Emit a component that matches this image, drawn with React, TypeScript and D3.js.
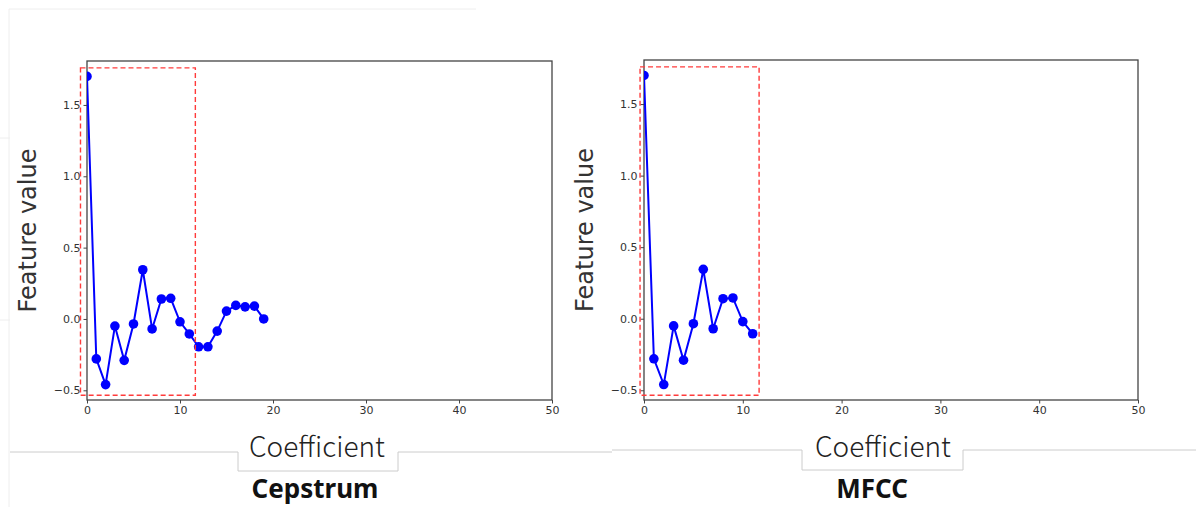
import { useEffect, useRef } from 'react';
import * as d3 from 'd3';

// feature values
const cepstrumValues = [1.70, -0.28, -0.46, -0.05, -0.29, -0.035, 0.345, -0.07, 0.14, 0.145,
  -0.02, -0.105, -0.195, -0.195, -0.085, 0.055, 0.095, 0.085, 0.09, 0.0];
const mfccValues = [1.70, -0.28, -0.46, -0.05, -0.29, -0.035, 0.345, -0.07, 0.14, 0.145,
  -0.02, -0.105];
const xTicks = [0, 10, 20, 30, 40, 50];
const yTicks = [-0.5, 0.0, 0.5, 1.0, 1.5];
const panelTitles = ['Cepstrum', 'MFCC'];
// highlighted range [x0, x1, y0, y1] in data units
const cepstrumBox = [-0.7, 11.65, -0.535, 1.76];
const mfccBox = [-0.4, 11.65, -0.535, 1.76];

const W = 1196;
const H = 507;

function drawPanel(svg, opts) {
  const { values, box, left, right, top, bottom, title, id, labelX, titleX, bracket, lineFrom, lineTo } = opts;
  const x = d3.scaleLinear().domain([0, 50]).range([left, right]);
  const y = d3.scaleLinear().domain([-0.568, 1.808]).range([bottom, top]);

  svg.append('clipPath').attr('id', id)
    .append('rect').attr('x', left).attr('y', top)
    .attr('width', right - left).attr('height', bottom - top);

  // axes
  const ax = svg.append('g')
    .attr('transform', `translate(0,${bottom})`)
    .call(d3.axisBottom(x).tickValues(xTicks).tickSize(3.5).tickPadding(3).tickFormat(d3.format('d')));
  const ay = svg.append('g')
    .attr('transform', `translate(${left},0)`)
    .call(d3.axisLeft(y).tickValues(yTicks).tickSize(3.5).tickPadding(3).tickFormat(d3.format('.1f')));
  [ax, ay].forEach(g => {
    g.select('.domain').remove();
    g.attr('font-family', 'DejaVu Sans').attr('font-size', 11);
    g.selectAll('line').attr('stroke', '#444');
    g.selectAll('text').attr('fill', '#333')
      .text(function () { return d3.select(this).text().replace('-', '\u2212'); });
  });

  // frame
  svg.append('rect')
    .attr('x', left).attr('y', top)
    .attr('width', right - left).attr('height', bottom - top)
    .attr('fill', 'none').attr('stroke', '#444').attr('stroke-width', 1.3);

  const plot = svg.append('g').attr('clip-path', `url(#${id})`);
  plot.append('path')
    .datum(values)
    .attr('fill', 'none')
    .attr('stroke', '#0000ff')
    .attr('stroke-width', 2)
    .attr('d', d3.line().x((d, i) => x(i)).y(d => y(d)));
  plot.selectAll('circle').data(values).join('circle')
    .attr('cx', (d, i) => x(i)).attr('cy', d => y(d))
    .attr('r', 4.8).attr('fill', '#0000ff');

  // dashed highlight
  svg.append('rect')
    .attr('x', x(box[0])).attr('y', y(box[3]))
    .attr('width', x(box[1]) - x(box[0])).attr('height', y(box[2]) - y(box[3]))
    .attr('fill', 'none').attr('stroke', '#ff3b3b').attr('stroke-width', 1.4)
    .attr('stroke-dasharray', '5,3');

  svg.append('text')
    .attr('transform', `translate(${left - 51},${(top + bottom) / 2}) rotate(-90)`)
    .attr('text-anchor', 'middle')
    .attr('fill', '#333')
    .attr('font-family', 'DejaVu Sans')
    .attr('font-size', 24)
    .text('Feature value');

  // bracket around the x label
  const [bx0, bx1, by0, by1] = bracket;
  svg.append('path')
    .attr('d', `M${lineFrom},${by0}H${bx0}V${by1}H${bx1}V${by0}H${lineTo}`)
    .attr('fill', 'none').attr('stroke', '#cccccc').attr('stroke-width', 1);

  svg.append('text')
    .attr('x', labelX).attr('y', 457)
    .attr('text-anchor', 'middle')
    .attr('fill', '#222')
    .attr('font-family', 'Noto Sans CJK JP')
    .attr('font-weight', 300)
    .attr('font-size', 28)
    .text('Coefficient');

  svg.append('text')
    .attr('x', titleX).attr('y', 498)
    .attr('text-anchor', 'middle')
    .attr('fill', '#111')
    .attr('font-family', 'Noto Sans')
    .attr('font-weight', 'bold')
    .attr('font-size', 26)
    .text(title);
}

function App() {
  const ref = useRef(null);

  useEffect(() => {
    const svg = d3.select(ref.current);
    svg.selectAll('*').remove();

    // faint frame lines of the source image
    svg.append('path')
      .attr('d', 'M9,9H476M9,9V507M0,138H10M0,320H10')
      .attr('stroke', '#eeeeee').attr('fill', 'none');

    drawPanel(svg, {
      values: cepstrumValues, box: cepstrumBox, id: 'clipA',
      left: 87, right: 552, top: 61, bottom: 400,
      title: panelTitles[0], labelX: 317, titleX: 315,
      bracket: [238, 398, 452, 471], lineFrom: 10, lineTo: 612
    });
    drawPanel(svg, {
      values: mfccValues, box: mfccBox, id: 'clipB',
      left: 644, right: 1138, top: 60, bottom: 400,
      title: panelTitles[1], labelX: 883, titleX: 872,
      bracket: [802, 963, 450, 470], lineFrom: 612, lineTo: 1196
    });
  }, []);

  return (
    <svg ref={ref} width={W} height={H}
      style={{ position: 'absolute', left: 0, top: 0, background: '#fff' }} />
  );
}

export default App;
